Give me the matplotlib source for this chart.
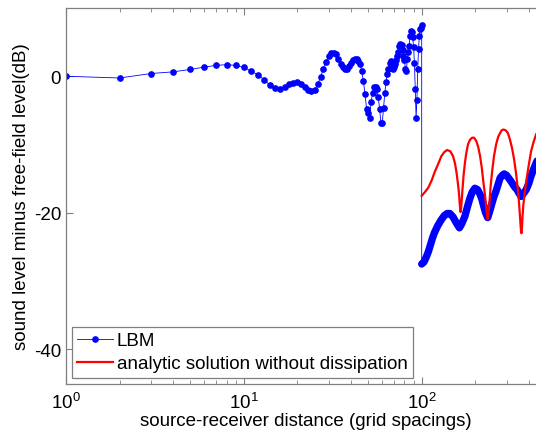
import matplotlib
matplotlib.use("Agg")
import matplotlib.pyplot as plt
from matplotlib.ticker import LogLocator, LogFormatterMathtext, NullFormatter

plt.rcParams['font.family'] = ['Liberation Sans', 'DejaVu Sans']
plt.rcParams['mathtext.fontset'] = 'custom'
plt.rcParams['mathtext.rm'] = 'Liberation Sans'
plt.rcParams['axes.unicode_minus'] = False

# LBM result, near field (one sample per grid spacing)
lbm_near_d = list(range(1, 101))
lbm_near_db = [
    0.0, -0.25, 0.4, 0.65, 1.0, 1.35, 1.6, 1.7, 1.6, 1.3,            # 1-10
    0.75, 0.2, -0.5, -1.3, -1.75, -1.85, -1.55, -1.2, -0.95, -0.9,   # 11-20
    -1.2, -1.6, -2.0, -2.2, -2.0, -1.2, -0.1, 1.1, 2.1, 2.9,         # 21-30
    3.35, 3.45, 3.2, 2.5, 1.8, 1.3, 1.0, 1.0, 1.5, 2.0,              # 31-40
    2.4, 2.6, 2.6, 2.3, 1.8, 0.8, -0.7, -2.6, -4.8, -5.4,            # 41-50
    -6.1, -3.7, -2.4, -1.6, -1.5, -1.9, -3.1, -4.8, -6.8, -6.9,      # 51-60
    -4.7, -2.5, -0.9, 0.3, 1.0, 2.0, 2.3, 1.7, 1.1, 1.3,             # 61-70
    1.8, 2.4, 3.0, 3.5, 4.4, 4.8, 4.6, 3.9, 3.0, 2.4,                # 71-80
    1.0, 0.8, 2.5, 3.5, 4.5, 5.9, 6.6, 6.5, 5.7, 4.3,                # 81-90
    2.0, -1.8, -6.1, -3.5, 1.0, 4.0, 5.9, 6.9, 7.1, 7.5,             # 91-100
]

# LBM result, far field (dense samples)
lbm_far_d = [100, 103, 106, 109, 112, 115, 118, 123, 129, 134, 139, 144, 150, 156,
             163, 168, 175, 180, 186, 192, 199, 206, 213, 218, 222, 228, 235, 241,
             249, 255, 262, 270, 276, 284, 291, 300, 308, 316, 325, 335, 344, 352,
             362, 373, 387, 400, 412, 426, 440, 470]
lbm_far_db = [-27.5, -27.2, -26.5, -25.7, -24.7, -23.7, -22.9, -21.9, -21.0, -20.4, -20.1, -20.1, -20.6, -21.4,
              -22.2, -21.6, -20.5, -19.3, -18.0, -17.0, -16.4, -16.6, -17.3, -18.0, -18.8, -19.9, -20.7, -19.8,
              -18.5, -17.6, -16.8, -15.7, -14.9, -14.5, -14.3, -14.5, -14.9, -15.3, -15.8, -16.3, -16.6, -17.1,
              -17.6, -17.2, -16.6, -15.7, -14.6, -13.6, -12.7, -11.0]

# analytic solution without dissipation
analytic_d = [100, 104, 109, 114, 118, 124, 129, 134, 139, 145, 150, 154, 157, 160,
              162, 164, 165.5, 167, 169, 172, 175, 178, 182, 187, 192, 197, 203, 208,
              213, 218, 222, 226, 230, 233, 235, 237, 240, 244, 249, 255, 262, 269,
              276, 282, 288, 296, 305, 313, 322, 331, 340, 346, 352, 357, 362, 364,
              366, 369, 373, 380, 387, 400, 412, 426, 440, 470]
analytic_db = [-17.5, -17.0, -16.3, -15.2, -14.1, -12.8, -11.7, -11.1, -10.8, -11.0, -11.7, -12.8, -14.1, -15.8,
               -17.1, -19.0, -19.9, -19.0, -17.1, -14.5, -12.7, -11.3, -10.0, -9.3, -9.0, -9.0, -9.5, -10.4,
               -11.7, -13.5, -15.4, -17.0, -18.8, -20.2, -20.9, -20.2, -18.8, -16.2, -13.9, -11.7, -10.0, -8.9,
               -8.3, -7.9, -7.8, -7.9, -8.3, -9.2, -10.5, -12.2, -14.4, -16.2, -18.3, -20.5, -22.8, -23.0,
               -22.3, -20.5, -18.8, -17.0, -15.4, -13.0, -11.0, -9.6, -8.5, -7.2]

fig = plt.figure(figsize=(5.36, 4.39), dpi=100)
ax = fig.add_axes([66 / 536, 1 - 384.5 / 439, 480 / 536, (384.5 - 9) / 439])

all_d = lbm_near_d + lbm_far_d[:1]
all_db = lbm_near_db + lbm_far_db[:1]
ax.plot(all_d, all_db, '-o', color='b', lw=0.6, ms=3.8, mec='b', mfc='b',
        markevery=list(range(len(lbm_near_d))), label='LBM')
ax.plot(lbm_far_d, lbm_far_db, '-', color='b', lw=5.3, solid_capstyle='round',
        solid_joinstyle='round')
ax.plot(analytic_d, analytic_db, '-', color='r', lw=1.6,
        label='analytic solution without dissipation')

ax.set_xscale('log')
ax.set_xlim(1, 500)
ax.set_ylim(-45, 10)
ax.set_yticks([-40, -20, 0])
ax.xaxis.set_major_locator(LogLocator(base=10))
ax.xaxis.set_major_formatter(LogFormatterMathtext())
ax.xaxis.set_minor_locator(LogLocator(base=10, subs=range(2, 10)))
ax.xaxis.set_minor_formatter(NullFormatter())

for s in ax.spines.values():
    s.set_color('#7f7f7f')
    s.set_linewidth(0.9)
ax.tick_params(which='both', direction='in', top=True, right=False,
               colors='#7f7f7f', labelcolor='black', labelsize=13.5)
ax.tick_params(which='major', length=5)
ax.tick_params(which='minor', length=3)
ax.tick_params(axis='x', pad=6)

ax.set_xlabel('source-receiver distance (grid spacings)', fontsize=13.5, labelpad=0)
ax.set_ylabel('sound level minus free-field level(dB)', fontsize=13.5, labelpad=3)

leg = ax.legend(loc='lower left', fontsize=13.5, fancybox=False, edgecolor='#7f7f7f',
                framealpha=1, borderaxespad=0.3, borderpad=0.3, handlelength=1.9,
                handletextpad=0.2, labelspacing=0.3)
leg.get_frame().set_linewidth(0.9)

fig.savefig('out.png', dpi=100)
